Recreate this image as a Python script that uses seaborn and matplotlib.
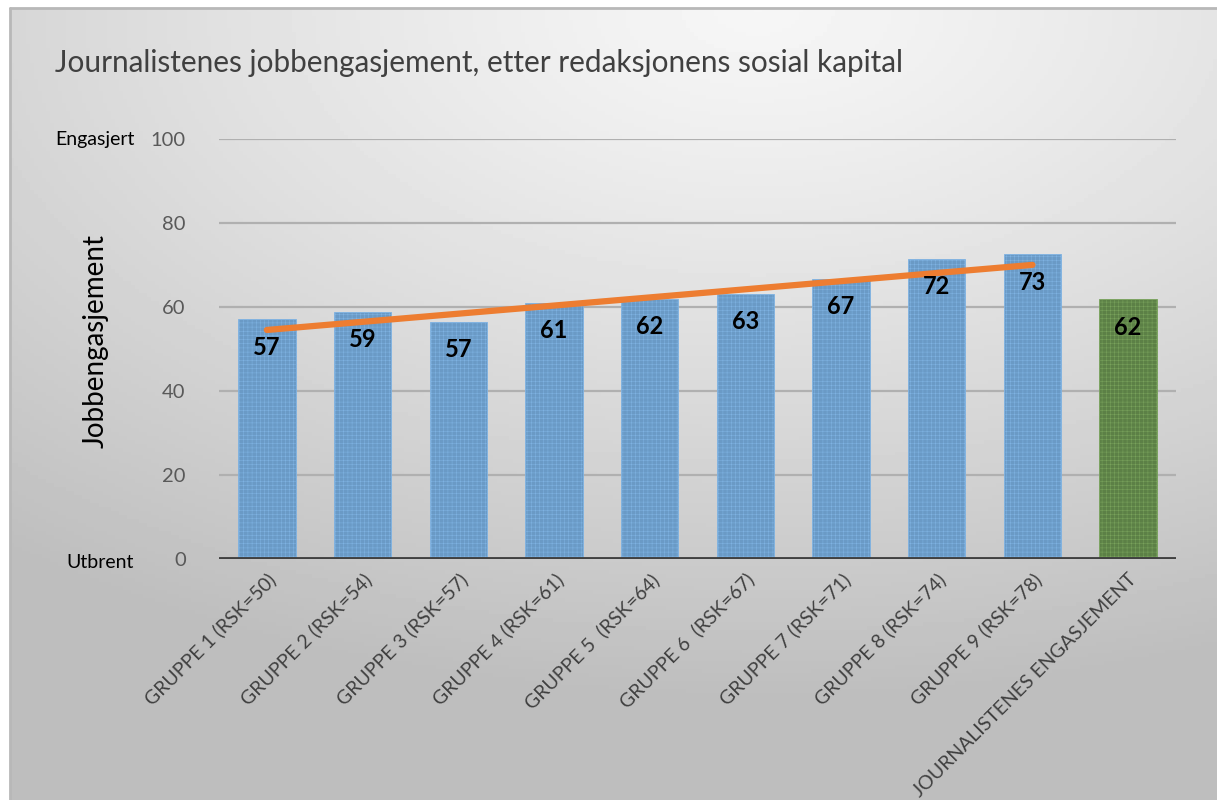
import numpy as np
import pandas as pd
import matplotlib
matplotlib.use("Agg")
import matplotlib.pyplot as plt
import seaborn as sns

# data
kategorier = ["GRUPPE 1 (RSK=50)", "GRUPPE 2 (RSK=54)", "GRUPPE 3 (RSK=57)",
              "GRUPPE 4 (RSK=61)", "GRUPPE 5  (RSK=64)", "GRUPPE 6  (RSK=67)",
              "GRUPPE 7 (RSK=71)", "GRUPPE 8 (RSK=74)", "GRUPPE 9 (RSK=78)",
              "JOURNALISTENES ENGASJEMENT"]
verdier = [57.1, 59.0, 56.6, 61.1, 62.0, 63.2, 66.7, 71.5, 72.6, 61.9]
etiketter = ["57", "59", "57", "61", "62", "63", "67", "72", "73", "62"]
farger = ["#5b9bd5"] * 9 + ["#5a8a3c"]
kantfarger = ["#7fb3e3"] * 9 + ["#79a35c"]
trend_start, trend_slutt = 54.6, 70.1   # lineær trendlinje, gruppe 1 -> gruppe 9
y_ticks = [0, 20, 40, 60, 80, 100]

sns.set_theme(style="white")
plt.rcParams["font.family"] = ["Lato", "DejaVu Sans"]
plt.rcParams["hatch.linewidth"] = 0.35

fig = plt.figure(figsize=(12.17, 8), dpi=100)
W, H = 1217, 800

# bakgrunn med gradient (lys øverst, grå nede i hjørnene)
bg = fig.add_axes([10 / W, 0, 1 - 10 / W, 1 - 8 / H], zorder=-10)
yy, xx = np.mgrid[0:1:200j, 0:1:300j]
d = np.sqrt(((xx - 0.62) * 1.0) ** 2 + ((yy - 0.0) * 1.15) ** 2)
shade = 0.965 - 0.22 * np.clip(d / 1.0, 0, 1) ** 1.2
bg.imshow(shade, cmap="gray", vmin=0, vmax=1, aspect="auto", extent=[0, 1, 1, 0])
bg.set_axis_off()
fig.add_artist(plt.Line2D([10 / W, 10 / W], [0, 1 - 8 / H], color="#b8b8b8", lw=2, transform=fig.transFigure))
fig.add_artist(plt.Line2D([10 / W, 1], [1 - 8 / H, 1 - 8 / H], color="#b8b8b8", lw=2, transform=fig.transFigure))

ax = fig.add_axes([219 / W, 1 - 559.3 / H, (1176 - 219) / W, (559.3 - 139.3) / H])
ax.patch.set_alpha(0)

df = pd.DataFrame({"kategori": kategorier, "verdi": verdier})
sns.barplot(data=df, x="kategori", y="verdi", hue="kategori", palette=farger,
            legend=False, width=0.6, ax=ax, zorder=3)
for p, k in zip(ax.patches, kantfarger):
    p.set_edgecolor(k)
    p.set_linewidth(0.6)
    p.set_hatch("++++")

# trendlinje
ax.plot([0, 8], [trend_start, trend_slutt], color="#ed7d31", lw=4.5,
        solid_capstyle="round", zorder=4)

# verdietiketter
for i, (v, t) in enumerate(zip(verdier, etiketter)):
    ax.annotate(t, (i, v), xytext=(0, -20), textcoords="offset points",
                ha="center", va="center", fontsize=17, fontweight="bold",
                color="black", zorder=5)

ax.set_ylim(0, 100)
ax.set_xlim(-0.5, 9.5)
ax.set_yticks(y_ticks)
ax.set_yticklabels([str(t) for t in y_ticks], fontsize=14.5, color="#595959")
for t in y_ticks[1:]:
    ax.axhline(t, color="#b0b0b0", lw=1.6, zorder=1)
ax.axhline(0, color="#404040", lw=3.5, zorder=6)
for s in ax.spines.values():
    s.set_visible(False)
ax.tick_params(axis="y", length=0, pad=24)
ax.tick_params(axis="x", length=0, pad=8)
ax.set_xticks(range(len(kategorier)))
ax.set_xticklabels(kategorier, rotation=45, ha="right", rotation_mode="anchor",
                   fontsize=14, color="#404040")
ax.set_xlabel("")
ax.set_ylabel("Jobbengasjement", fontsize=20, color="black")
ax.yaxis.set_label_coords(-110 / 957, 0.52)

fig.text(55 / W, 1 - 63 / H, "Journalistenes jobbengasjement, etter redaksjonens sosial kapital",
         fontsize=21.4, color="#404040", va="center", ha="left")
fig.text(55 / W, 1 - 140 / H, "Engasjert", fontsize=14, color="black", va="center", ha="left")
fig.text(66 / W, 1 - 563 / H, "Utbrent", fontsize=14, color="black", va="center", ha="left")

fig.savefig("out.png", dpi=100)
